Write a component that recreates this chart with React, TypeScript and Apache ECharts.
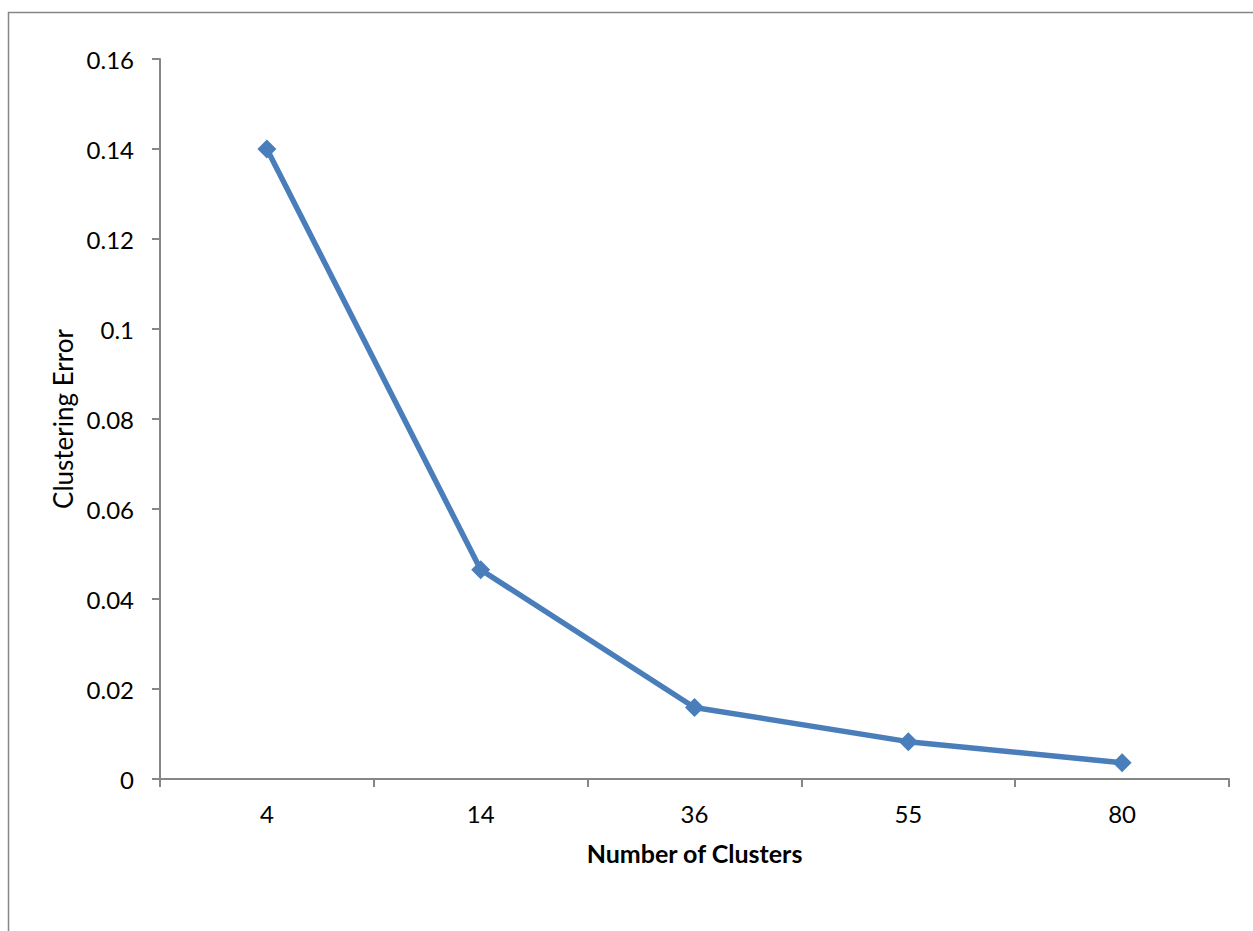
import React, { useEffect, useRef } from "react";
import * as echarts from "echarts";

// Clustering error versus number of clusters
const clusterCounts: string[] = ["4", "14", "36", "55", "80"];
const clusteringError: number[] = [0.14, 0.0465, 0.0159, 0.0083, 0.0036];

const yMin = 0;
const yMax = 0.16;
const yStep = 0.02;

const axisGray = "#868686";
const lineBlue = "#4a7ebb";
const fontFamily = "Lato, 'Open Sans', sans-serif";

export default function App() {
  const ref = useRef<HTMLDivElement>(null);

  useEffect(() => {
    document.body.style.margin = "0";
    if (!ref.current) return;
    const chart = echarts.init(ref.current, null, { renderer: "svg" });
    chart.setOption({
      animation: false,
      backgroundColor: "#ffffff",
      textStyle: { fontFamily },
      grid: { left: 160, top: 59, right: 24, bottom: 152, containLabel: false },
      graphic: [
        {
          type: "rect",
          silent: true,
          shape: { x: 8.5, y: 12.5, width: 1400, height: 1100 },
          style: { fill: "none", stroke: axisGray, lineWidth: 1.5 },
        },
      ],
      xAxis: {
        type: "category",
        data: clusterCounts,
        boundaryGap: true,
        name: "Number of Clusters",
        nameLocation: "middle",
        nameGap: 61,
        nameTextStyle: { fontSize: 25, fontWeight: "bold", color: "#000", fontFamily },
        axisLine: { show: true, lineStyle: { color: axisGray, width: 2 } },
        axisTick: { show: true, alignWithLabel: false, length: 8, lineStyle: { color: axisGray, width: 2 } },
        axisLabel: { fontSize: 24, color: "#000", margin: 22, fontFamily },
        splitLine: { show: false },
      },
      yAxis: {
        type: "value",
        min: yMin,
        max: yMax,
        interval: yStep,
        name: "Clustering Error",
        nameLocation: "middle",
        nameGap: 81,
        nameRotate: 90,
        nameTextStyle: { fontSize: 26, color: "#000", fontFamily },
        axisLine: { show: true, lineStyle: { color: axisGray, width: 2 } },
        axisTick: { show: true, length: 8, lineStyle: { color: axisGray, width: 2 } },
        axisLabel: { fontSize: 24, color: "#000", margin: 26, fontFamily },
        splitLine: { show: false },
      },
      series: [
        {
          type: "line",
          data: clusteringError,
          symbol: "diamond",
          symbolSize: 19,
          lineStyle: { color: lineBlue, width: 5.5 },
          itemStyle: { color: lineBlue },
          emphasis: { disabled: true },
        },
      ],
    });
    return () => chart.dispose();
  }, []);

  return <div ref={ref} style={{ width: 1253, height: 931 }} />;
}
